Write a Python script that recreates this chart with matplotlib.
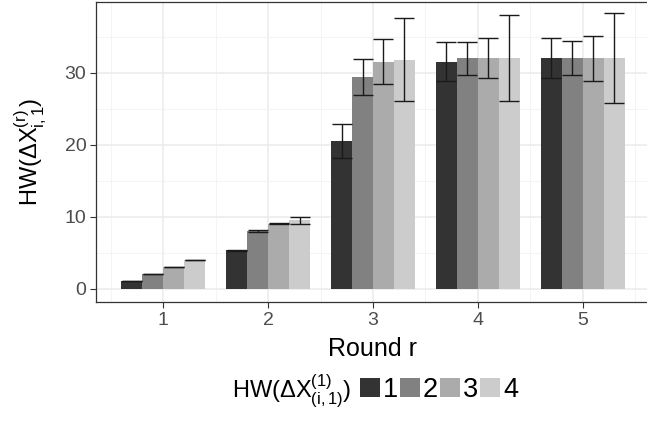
import numpy as np
import matplotlib
matplotlib.use('Agg')
import matplotlib.pyplot as plt
from matplotlib.patches import Patch

plt.rcParams['font.family'] = ['Liberation Sans', 'DejaVu Sans']
plt.rcParams['mathtext.fontset'] = 'custom'
plt.rcParams['mathtext.rm'] = 'Liberation Sans'
plt.rcParams['mathtext.it'] = 'Liberation Sans'
plt.rcParams['mathtext.bf'] = 'Liberation Sans:bold'

# Datos
rondas = [1, 2, 3, 4, 5]
etiquetas = ['1', '2', '3', '4']
# media por ronda para cada valor de HW inicial
media_1 = [1.0, 5.3, 20.5, 31.5, 32.0]
media_2 = [2.0, 8.0, 29.4, 32.0, 32.0]
media_3 = [3.0, 9.0, 31.5, 32.0, 32.0]
media_4 = [4.0, 9.5, 31.8, 32.0, 32.0]
# semi-ancho de las barras de error
err_1 = [0.0, 0.05, 2.3, 2.7, 2.75]
err_2 = [0.0, 0.15, 2.55, 2.3, 2.35]
err_3 = [0.0, 0.05, 3.15, 2.8, 3.1]
err_4 = [0.05, 0.5, 5.75, 6.0, 6.25]

medias = [media_1, media_2, media_3, media_4]
errores = [err_1, err_2, err_3, err_4]
colores = ['#333333', '#818181', '#ababab', '#cccccc']

fig = plt.figure(figsize=(6.47, 4.22), dpi=100)
ax = fig.add_axes([96/647, 1 - 302/422, 554/647, 300/422])

x = np.array(rondas, dtype=float)
ancho = 0.2
desp = [-0.3, -0.1, 0.1, 0.3]
for k in range(4):
    ax.bar(x + desp[k], medias[k], width=ancho, color=colores[k],
           zorder=2, label=etiquetas[k])
    ax.errorbar(x + desp[k], medias[k], yerr=errores[k], fmt='none',
                ecolor='#1a1a1a', elinewidth=1.0, capsize=7.4,
                capthick=1.0, zorder=3)

#Formato de grafica
ax.set_xlim(0.36, 5.64)
ax.set_ylim(-1.85, 39.8)
ax.set_xticks(rondas)
ax.set_yticks([0, 10, 20, 30])
ax.set_xticks([0.5, 1.5, 2.5, 3.5, 4.5, 5.5], minor=True)
ax.set_yticks([5, 15, 25, 35], minor=True)
ax.grid(which='major', color='#ebebeb', linewidth=1.1, zorder=0)
ax.grid(which='minor', color='#f2f2f2', linewidth=0.6, zorder=0)
ax.set_axisbelow(True)
ax.tick_params(which='major', labelsize=14, labelcolor='#4d4d4d',
               color='#333333', length=4, width=0.8, pad=3)
ax.tick_params(which='minor', length=0)
for s in ax.spines.values():
    s.set_color('#333333')
    s.set_linewidth(0.9)
ax.spines['right'].set_visible(False)

ax.set_xlabel('Round r', fontsize=18, labelpad=6)
ax.set_ylabel(r'HW($\Delta$X$_{\mathrm{i,1}}^{\mathrm{(r)}}$)', fontsize=17,
              labelpad=11)

# leyenda inferior con titulo a la izquierda
fig.text(232/647, 1 - 391/422, r'HW($\Delta$X$_{(\mathrm{i,1})}^{(1)}$)',
         fontsize=17, va='center', ha='left')
handles = [Patch(facecolor=c, edgecolor='none') for c in colores]
fig.legend(handles, etiquetas, loc='center left',
           bbox_to_anchor=(360/647, 1 - 390/422), ncol=4, frameon=False,
           fontsize=19.5, handlelength=0.72, handleheight=0.72,
           handletextpad=0.12, columnspacing=0.08, borderaxespad=0,
           borderpad=0)

fig.savefig('out.png', dpi=100)
